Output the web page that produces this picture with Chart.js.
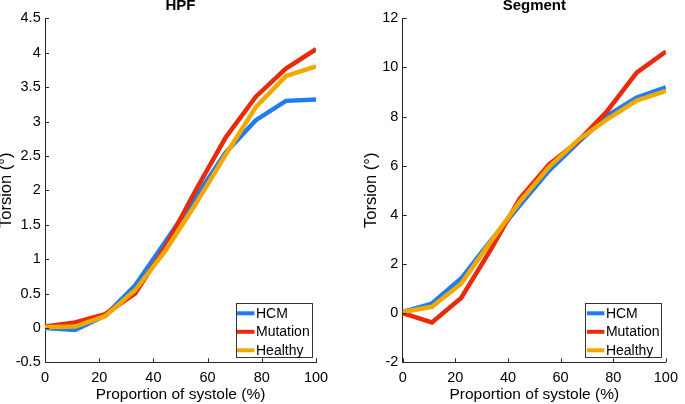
<!DOCTYPE html>
<html>
<head>
<meta charset="UTF-8">
<title>Torsion over systole</title>
<script src="https://cdn.jsdelivr.net/npm/chart.js"></script>
<style>
  body { margin: 0; background: #fff; }
  .panel { position: absolute; top: 0; width: 340px; height: 404px; }
</style>
</head>
<body>
<div class="panel" style="left:0"><canvas id="hpf" width="340" height="404"></canvas></div>
<div class="panel" style="left:345px"><canvas id="segment" width="340" height="404"></canvas></div>

<script>
// proportion of systole (%) for every sample
const systole = [0, 11.1, 22.2, 33.3, 44.4, 55.6, 66.7, 77.8, 88.9, 100];
const groups = ['HCM', 'Mutation', 'Healthy'];

// HPF torsion (deg)
const hpfHCM      = [0.00, -0.03, 0.18, 0.62, 1.25, 1.90, 2.55, 3.02, 3.30, 3.32];
const hpfMutation = [0.02, 0.08, 0.20, 0.50, 1.18, 2.00, 2.77, 3.36, 3.77, 4.05];
const hpfHealthy  = [0.01, 0.02, 0.17, 0.55, 1.12, 1.80, 2.52, 3.21, 3.66, 3.80];

// Segment torsion (deg)
const segHCM      = [0.05, 0.39, 1.41, 2.93, 4.38, 5.80, 6.95, 8.04, 8.78, 9.19];
const segMutation = [0.00, -0.38, 0.62, 2.56, 4.65, 6.05, 7.00, 8.24, 9.79, 10.65];
const segHealthy  = [0.05, 0.26, 1.20, 2.89, 4.52, 5.95, 7.05, 7.90, 8.65, 9.05];

const lineColors = ['#1f7cf2', '#e62c0c', '#f0a900'];
const FONT = '"Liberation Sans", Arial, Helvetica, sans-serif';

Chart.defaults.font.family = FONT;
Chart.defaults.color = '#000';

// inward ticks, panel title and boxed legend, matlab style
const matlabAxes = {
    id: 'matlabAxes',
    afterDraw(chart, args, opts) {
        const ctx = chart.ctx;
        const ca = chart.chartArea;
        const xs = chart.scales.x, ys = chart.scales.y;
        ctx.save();
        ctx.strokeStyle = '#262626';
        ctx.lineWidth = 1;
        ctx.beginPath();
        xs.ticks.forEach(t => {
            const px = Math.round(xs.getPixelForValue(t.value)) + 0.5;
            ctx.moveTo(px, ca.bottom);
            ctx.lineTo(px, ca.bottom - 4);
        });
        ys.ticks.forEach(t => {
            const py = Math.round(ys.getPixelForValue(t.value)) + 0.5;
            ctx.moveTo(ca.left, py);
            ctx.lineTo(ca.left + 4, py);
        });
        ctx.stroke();

        // title
        ctx.fillStyle = '#000';
        ctx.font = 'bold 15px ' + FONT;
        ctx.textAlign = 'center';
        ctx.textBaseline = 'middle';
        ctx.fillText(opts.title, (ca.left + ca.right) / 2, 6);

        // legend
        const w = 76, h = 54;
        const bx = ca.right - 4.5 - w, by = ca.bottom - 5.5 - h;
        ctx.fillStyle = '#fff';
        ctx.fillRect(bx, by, w, h);
        ctx.strokeStyle = '#333';
        ctx.strokeRect(Math.round(bx) + 0.5, Math.round(by) + 0.5, w, h);
        ctx.font = '14px ' + FONT;
        ctx.textAlign = 'left';
        chart.data.datasets.forEach((ds, i) => {
            const cy = by + 10.5 + i * 18.5;
            ctx.strokeStyle = ds.borderColor;
            ctx.lineWidth = 4;
            ctx.beginPath();
            ctx.moveTo(bx + 1.5, cy);
            ctx.lineTo(bx + 19, cy);
            ctx.stroke();
            ctx.fillStyle = '#000';
            ctx.fillText(ds.label, bx + 20.5, cy + 0.5);
        });
        ctx.restore();
    }
};

function makePanel(id, title, series, yMin, yMax, yStep, padRight, yWidth, yTitlePad) {
    const datasets = series.map((vals, i) => ({
        label: groups[i],
        data: systole.map((x, k) => ({ x: x, y: vals[k] })),
        borderColor: lineColors[i],
        borderWidth: 4.5,
        pointRadius: 0,
        tension: 0,
        order: 2 - i
    }));
    return new Chart(document.getElementById(id).getContext('2d'), {
        type: 'line',
        data: { datasets: datasets },
        options: {
            responsive: false,
            animation: false,
            events: [],
            layout: { padding: { top: 18.3, right: padRight, bottom: 0, left: 0 } },
            plugins: {
                legend: { display: false },
                tooltip: { enabled: false },
                matlabAxes: { title: title }
            },
            scales: {
                x: {
                    type: 'linear',
                    min: 0, max: 100,
                    grid: { display: false, drawTicks: false },
                    border: { display: true, color: '#262626', width: 1 },
                    ticks: { stepSize: 20, padding: 7, font: { size: 14.5 }, maxRotation: 0 },
                    title: {
                        display: true,
                        text: 'Proportion of systole (%)',
                        font: { size: 15.5, lineHeight: 1 },
                        padding: { top: 0, bottom: 1.5 }
                    },
                    afterFit: s => { s.height = 41.7; }
                },
                y: {
                    min: yMin, max: yMax,
                    grid: { display: false, drawTicks: false },
                    border: { display: true, color: '#262626', width: 1 },
                    ticks: {
                        stepSize: yStep, padding: 4.3, font: { size: 14.5 },
                        callback: v => String(Number(v.toFixed(2)))
                    },
                    title: {
                        display: true,
                        text: 'Torsion (°)',
                        font: { size: 16.5, lineHeight: 1 },
                        padding: { top: yTitlePad, bottom: 0 }
                    },
                    afterFit: s => { s.width = yWidth; }
                }
            }
        },
        plugins: [matlabAxes]
    });
}

makePanel('hpf', 'HPF', [hpfHCM, hpfMutation, hpfHealthy], -0.5, 4.5, 0.5, 24, 45, -1.75);
makePanel('segment', 'Segment', [segHCM, segMutation, segHealthy], -2, 12, 2, 12, 57.7, 18.25);
</script>
</body>
</html>
